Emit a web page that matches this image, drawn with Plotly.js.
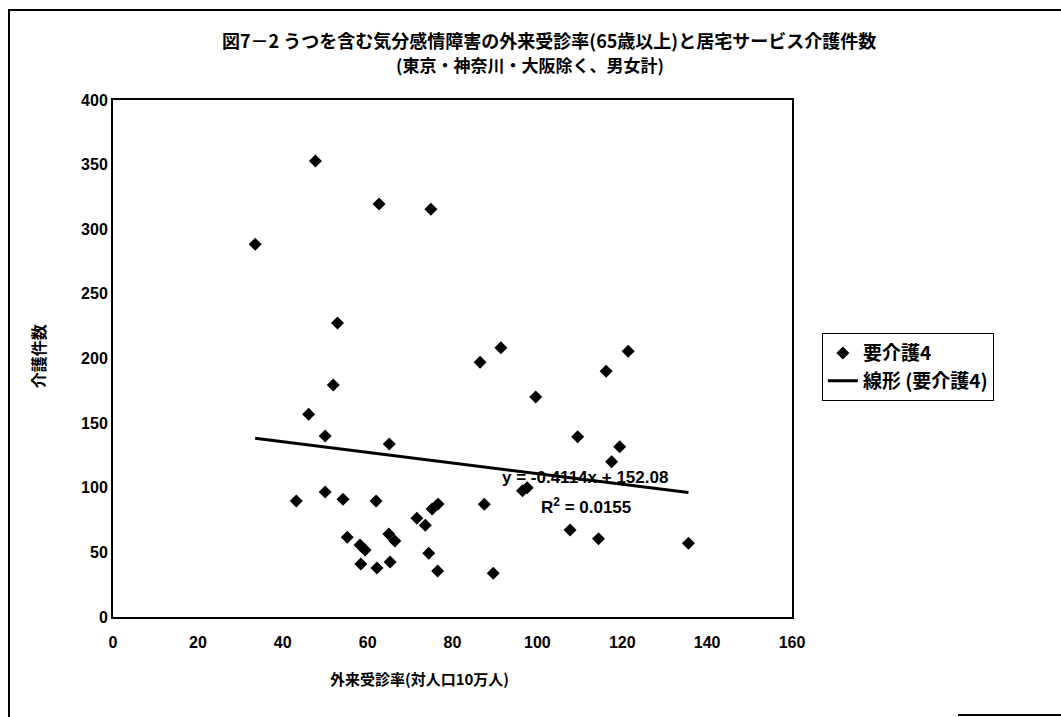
<!DOCTYPE html>
<html>
<head>
<meta charset="utf-8">
<script src="https://cdn.plot.ly/plotly-3.0.1.min.js"></script>
<style>
  html, body { margin: 0; padding: 0; background: #fff; }
  #wrap { position: relative; width: 1061px; height: 717px; overflow: hidden; }
  #frame { position: absolute; left: 8px; top: 9px; width: 1070px; height: 740px; border-left: 2px solid #000; border-top: 2px solid #000; box-sizing: border-box; pointer-events: none; }
  #corner { position: absolute; left: 958px; top: 714px; width: 110px; height: 2px; background: #000; }
  #chart { position: absolute; left: 0; top: 0; width: 1061px; height: 717px; }
</style>
</head>
<body>
<div id="wrap">
  <div id="chart"></div>
  <div id="frame"></div>
  <div id="corner"></div>
</div>
<script>
// ---- Data ----
const titleLine1 = '図7－2 うつを含む気分感情障害の外来受診率(65歳以上)と居宅サービス介護件数';
const titleLine2 = '(東京・神奈川・大阪除く、男女計)';
const xAxisTitle = '外来受診率(対人口10万人)';
const yAxisTitle = '介護件数';
const seriesName = '要介護4';
const trendName = '線形 (要介護4)';

// outpatient rate per 100k population (x)
const outpatientRate = [
  47.7, 62.7, 74.9, 33.5, 52.9, 51.9, 46.1, 50.0, 65.1, 86.5,
  50.0, 43.2, 54.2, 62.0, 75.2, 76.6, 87.5, 71.6, 73.6, 55.2,
  58.2, 59.4, 65.0, 66.4, 74.4, 58.4, 62.2, 65.3, 76.5, 91.4,
  121.4, 116.2, 99.6, 109.5, 119.4, 117.5, 96.5, 97.6, 107.7, 114.4,
  135.6, 89.6
];
// home-service care cases, care level 4 (y)
const careCases = [
  352.8, 319.5, 315.4, 288.3, 227.5, 179.5, 156.8, 140.0, 133.8, 197.1,
  96.7, 89.7, 91.1, 89.7, 83.6, 87.4, 87.2, 76.4, 70.9, 61.7,
  55.7, 51.8, 64.2, 58.8, 49.3, 41.0, 37.9, 42.6, 35.6, 208.4,
  205.6, 190.1, 170.2, 139.5, 131.8, 120.2, 97.7, 100.0, 67.3, 60.6,
  57.0, 33.8
];
// linear trend as printed on the chart
const trendSlope = -0.4114;
const trendIntercept = 152.08;
const trendR2 = 0.0155;

const xTickValues = [0, 20, 40, 60, 80, 100, 120, 140, 160];
const yTickValues = [0, 50, 100, 150, 200, 250, 300, 350, 400];

// ---- Build traces ----
const xMin = Math.min(...outpatientRate);
const xMax = Math.max(...outpatientRate);
const trendX = [xMin, xMax];
const trendY = trendX.map(v => trendSlope * v + trendIntercept);

const jpFont = '"Noto Sans CJK JP", "Noto Sans", sans-serif';
const numFont = '"Liberation Sans Narrow", "Liberation Sans", Arial, sans-serif';
const eqFont = '"Liberation Sans", Arial, sans-serif';

const traces = [
  {
    x: outpatientRate, y: careCases, name: seriesName,
    type: 'scatter', mode: 'markers',
    marker: { symbol: 'diamond', size: 10, color: '#000' }
  },
  {
    x: trendX, y: trendY, name: trendName,
    type: 'scatter', mode: 'lines',
    line: { color: '#000', width: 3 }
  }
];

const layout = {
  width: 1061, height: 717,
  paper_bgcolor: '#fff', plot_bgcolor: '#fff',
  margin: { l: 113, r: 269, t: 100, b: 100 },
  showlegend: true,
  legend: {
    x: 1.044, xanchor: 'left', y: 0.549, yanchor: 'top',
    bordercolor: '#000', borderwidth: 1, bgcolor: '#fff',
    font: { family: jpFont, size: 19, color: '#000', weight: 'bold' },
    tracegroupgap: 0
  },
  xaxis: {
    range: [0, 160], tickvals: xTickValues, ticktext: xTickValues.map(String),
    showgrid: false, zeroline: false,
    showline: true, linecolor: '#000', linewidth: 2, mirror: true,
    ticks: '', ticklabelstandoff: 10,
    tickfont: { family: numFont, size: 16, color: '#000', weight: 'bold' }
  },
  yaxis: {
    range: [0, 400], tickvals: yTickValues, ticktext: yTickValues.map(String),
    showgrid: false, zeroline: false,
    showline: true, linecolor: '#000', linewidth: 2, mirror: true,
    ticks: '', ticklabelstandoff: 0,
    tickfont: { family: numFont, size: 16, color: '#000', weight: 'bold' }
  },
  annotations: [
    {
      xref: 'paper', yref: 'paper', x: 0.642, y: 1.116, xanchor: 'center', yanchor: 'middle',
      text: '<b>' + titleLine1 + '</b>', showarrow: false,
      font: { family: jpFont, size: 18, color: '#000' }
    },
    {
      xref: 'paper', yref: 'paper', x: 0.614, y: 1.0696, xanchor: 'center', yanchor: 'middle',
      text: '<b>' + titleLine2 + '</b>', showarrow: false,
      font: { family: jpFont, size: 17, color: '#000' }
    },
    {
      xref: 'paper', yref: 'paper', x: 0.451, y: -0.118, xanchor: 'center', yanchor: 'middle',
      text: '<b>' + xAxisTitle + '</b>', showarrow: false,
      font: { family: jpFont, size: 15, color: '#000' }
    },
    {
      xref: 'paper', yref: 'paper', x: -0.110, y: 0.505, xanchor: 'center', yanchor: 'middle',
      text: '<b>' + yAxisTitle + '</b>', showarrow: false, textangle: -90,
      font: { family: jpFont, size: 16, color: '#000' }
    },
    {
      xref: 'x', yref: 'y', x: 111.2, y: 108.3, xanchor: 'center', yanchor: 'middle',
      text: '<b>y = ' + trendSlope + 'x + ' + trendIntercept + '</b>', showarrow: false,
      font: { family: eqFont, size: 17, color: '#000' }
    },
    {
      xref: 'x', yref: 'y', x: 111.5, y: 86.1, xanchor: 'center', yanchor: 'middle',
      text: '<b>R<sup>2</sup> = ' + trendR2 + '</b>', showarrow: false,
      font: { family: eqFont, size: 17, color: '#000' }
    }
  ]
};

Plotly.newPlot('chart', traces, layout, { staticPlot: true, displayModeBar: false });
</script>
</body>
</html>
